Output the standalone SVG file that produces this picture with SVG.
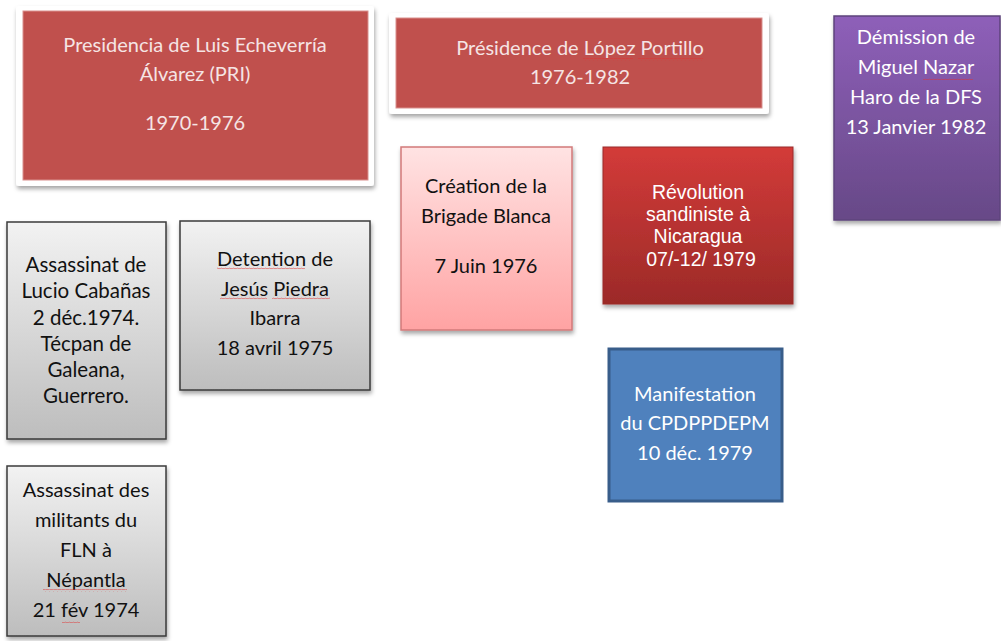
<svg xmlns="http://www.w3.org/2000/svg" width="1001" height="641" viewBox="0 0 1001 641">
<defs>
<filter id="sh" x="-10%" y="-10%" width="130%" height="130%">
<feDropShadow dx="1" dy="3" stdDeviation="2" flood-color="#000" flood-opacity="0.35"/>
</filter>
<linearGradient id="gGray" x1="0" y1="0" x2="0" y2="1">
<stop offset="0" stop-color="#f2f2f2"/><stop offset="1" stop-color="#bdbdbd"/>
</linearGradient>
<linearGradient id="gPink" x1="0" y1="0" x2="0" y2="1">
<stop offset="0" stop-color="#ffe3e3"/><stop offset="1" stop-color="#ffa3a3"/>
</linearGradient>
<linearGradient id="gRed" x1="0" y1="0" x2="0" y2="1">
<stop offset="0" stop-color="#d33b39"/><stop offset="1" stop-color="#9c2a28"/>
</linearGradient>
<linearGradient id="gPurple" x1="0" y1="0" x2="0" y2="1">
<stop offset="0" stop-color="#8e5fb9"/><stop offset="1" stop-color="#674987"/>
</linearGradient>
<pattern id="wave" width="4" height="3" patternUnits="userSpaceOnUse">
<path d="M0 2.2 Q1 0.3 2 1.3 T4 1.3" fill="none" stroke="#e03030" stroke-width="0.6"/>
</pattern>
</defs>
<style>
text{font-family:Lato,"Open Sans","Liberation Sans",sans-serif;font-size:20px;text-anchor:middle}
.w{fill:#f5e4e4}
.wt{fill:#ffffff}
.k{fill:#111111}
.big{font-size:20.5px}
.ar{font-family:"Liberation Sans",Arial,sans-serif;font-size:19.5px;fill:#ffffff}
.frame{fill:#ffffff;filter:url(#sh)}
.redbox{fill:#c0504d;stroke:#d9908e;stroke-width:1}
.gray{fill:url(#gGray);stroke:#3a3a3a;stroke-width:1.5;filter:url(#sh)}
.sq{fill:url(#wave);opacity:0.85}
</style>
<rect width="1001" height="641" fill="#ffffff"/>

<g id="n-echeverria">
<rect class="frame" x="16" y="6" width="358" height="180" rx="3"/>
<rect class="redbox" x="23" y="11" width="345" height="169"/>
<text class="w" x="195" y="52">Presidencia de Luis Echeverría</text>
<text class="w" x="195" y="81">Álvarez (PRI)</text>
<text class="w" x="195" y="130">1970-1976</text>
</g>

<g id="n-lopez">
<rect class="frame" x="389" y="13" width="380" height="101" rx="3"/>
<rect class="redbox" x="396" y="18" width="366" height="90"/>
<text class="w" x="580" y="55">Présidence de López Portillo</text>
<text class="w" x="580" y="84">1976-1982</text>
<rect class="sq" x="583" y="58" width="50" height="3"/>
<rect class="sq" x="638" y="58" width="65" height="3"/>
</g>

<g id="n-nazar">
<rect x="834" y="16" width="166" height="204" fill="url(#gPurple)" stroke="#5e437c" stroke-width="1.5" filter="url(#sh)"/>
<text class="wt" x="916" y="44">Démission de</text>
<text class="wt" x="916" y="74">Miguel Nazar</text>
<text class="wt" x="916" y="104">Haro de la DFS</text>
<text class="wt" x="916" y="134">13 Janvier 1982</text>
<rect class="sq" x="923" y="77" width="50" height="3"/>
</g>

<g id="n-cabanas">
<rect class="gray" x="7" y="222" width="159" height="217"/>
<text class="k big" x="86" y="272">Assassinat de</text>
<text class="k big" x="86" y="298">Lucio Cabañas</text>
<text class="k big" x="86" y="325">2 déc.1974.</text>
<text class="k big" x="86" y="351">Técpan de</text>
<text class="k big" x="86" y="377">Galeana,</text>
<text class="k big" x="86" y="403">Guerrero.</text>
</g>

<g id="n-piedra">
<rect class="gray" x="180" y="221" width="190" height="169"/>
<text class="k" x="275" y="266">Detention de</text>
<text class="k" x="275" y="296">Jesús Piedra</text>
<text class="k" x="275" y="325">Ibarra</text>
<text class="k" x="275" y="355">18 avril 1975</text>
<rect class="sq" x="217" y="267" width="88" height="3"/>
<rect class="sq" x="220" y="297" width="47" height="3"/>
<rect class="sq" x="272" y="297" width="58" height="3"/>
</g>

<g id="n-brigade">
<rect x="401" y="147" width="171" height="183" fill="url(#gPink)" stroke="#d27a7a" stroke-width="1.5" filter="url(#sh)"/>
<text class="k" x="486" y="193">Création de la</text>
<text class="k" x="486" y="223">Brigade Blanca</text>
<text class="k" x="486" y="273">7 Juin 1976</text>
</g>

<g id="n-nicaragua">
<rect x="603" y="147" width="190" height="157" fill="url(#gRed)" stroke="#9a2b29" stroke-width="1" filter="url(#sh)"/>
<text class="ar" x="698" y="199">Révolution</text>
<text class="ar" x="698" y="221">sandiniste à</text>
<text class="ar" x="698" y="243">Nicaragua</text>
<text class="ar" x="701" y="266">07/-12/ 1979</text>
</g>

<g id="n-cpdppdepm">
<rect x="609" y="349" width="173" height="152" fill="#4f81bd" stroke="#385d8a" stroke-width="3"/>
<text class="wt" x="695" y="401">Manifestation</text>
<text class="wt" x="695" y="430">du CPDPPDEPM</text>
<text class="wt" x="695" y="460">10 déc. 1979</text>
</g>

<g id="n-fln">
<rect class="gray" x="7" y="466" width="159" height="170"/>
<text class="k" x="86" y="497">Assassinat des</text>
<text class="k" x="86" y="527">militants du</text>
<text class="k" x="86" y="557">FLN à</text>
<text class="k" x="86" y="587">Népantla</text>
<text class="k" x="86" y="617">21 fév 1974</text>
<rect class="sq" x="43" y="589" width="84" height="3"/>
<rect class="sq" x="62" y="620" width="18" height="3"/>
</g>

<g id="connectors"></g>
</svg>
